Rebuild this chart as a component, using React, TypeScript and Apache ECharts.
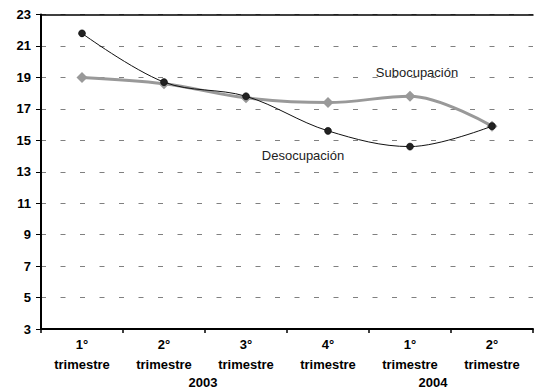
import React, { useEffect, useRef } from "react";
import * as echarts from "echarts";

const categories = ["1°\ntrimestre", "2°\ntrimestre", "3°\ntrimestre", "4°\ntrimestre", "1°\ntrimestre", "2°\ntrimestre"];
const years = ["2003", "2004"];
const desocupacion = [21.8, 18.7, 17.8, 15.6, 14.6, 15.9];
const subocupacion = [19.0, 18.6, 17.7, 17.4, 17.8, 15.9];

export default function App() {
  const ref = useRef<HTMLDivElement>(null);
  useEffect(() => {
    if (!ref.current) return;
    const chart = echarts.init(ref.current, null, { renderer: "svg" });
    const font = "'Liberation Sans', Arial, sans-serif";
    chart.setOption({
      animation: false,
      backgroundColor: "#fff",
      grid: { left: 41, right: 1, top: 14.5, bottom: 59 },
      xAxis: [
        {
          type: "category",
          data: categories,
          boundaryGap: true,
          axisLine: { lineStyle: { color: "#000", width: 2 } },
          axisTick: { show: true, length: 4, lineStyle: { color: "#000", width: 1.5 } },
          axisLabel: {
            color: "#000",
            fontFamily: font,
            fontWeight: "bold",
            fontSize: 13,
            lineHeight: 20,
            margin: 5,
            interval: 0,
          },
          splitLine: { show: false },
        },
        {
          type: "category",
          data: categories,
          position: "top",
          axisLine: { lineStyle: { color: "#000", width: 1.5 } },
          axisTick: { show: false },
          axisLabel: { show: false },
        },
      ],
      yAxis: {
        type: "value",
        min: 3,
        max: 23,
        interval: 2,
        axisLine: { show: true, lineStyle: { color: "#000", width: 2 } },
        axisTick: { show: true, length: 5, lineStyle: { color: "#000" } },
        axisLabel: {
          color: "#000",
          fontFamily: font,
          fontWeight: "bold",
          fontSize: 13,
          margin: 10,
        },
        splitLine: {
          show: true,
          lineStyle: { color: "#808080", width: 1, type: [5, 14.5] },
        },
      },
      series: [
        {
          name: "Subocupación",
          type: "line",
          data: subocupacion,
          smooth: 0.35,
          symbol: "diamond",
          symbolSize: 11,
          lineStyle: { color: "#999", width: 3 },
          itemStyle: { color: "#999" },
          z: 2,
        },
        {
          name: "Desocupación",
          type: "line",
          data: desocupacion,
          smooth: 0.35,
          symbol: "circle",
          symbolSize: 7,
          lineStyle: { color: "#111", width: 1 },
          itemStyle: { color: "#222", borderColor: "#000", borderWidth: 0.5 },
          z: 3,
        },
      ],
      graphic: [
        {
          type: "text",
          x: 203,
          y: 382,
          style: {
            text: years[0],
            font: `bold 13px ${font}`,
            fill: "#000",
            align: "center",
            verticalAlign: "middle",
          },
        },
        {
          type: "text",
          x: 433,
          y: 382,
          style: {
            text: years[1],
            font: `bold 13px ${font}`,
            fill: "#000",
            align: "center",
            verticalAlign: "middle",
          },
        },
        {
          type: "text",
          x: 417,
          y: 72,
          style: {
            text: "Subocupación",
            font: `13px ${font}`,
            fill: "#222",
            align: "center",
            verticalAlign: "middle",
          },
        },
        {
          type: "text",
          x: 303,
          y: 155,
          style: {
            text: "Desocupación",
            font: `13px ${font}`,
            fill: "#222",
            align: "center",
            verticalAlign: "middle",
          },
        },
      ],
    });
    return () => chart.dispose();
  }, []);
  return <div ref={ref} style={{ width: 534, height: 388, position: "absolute", left: 0, top: 0 }} />;
}
